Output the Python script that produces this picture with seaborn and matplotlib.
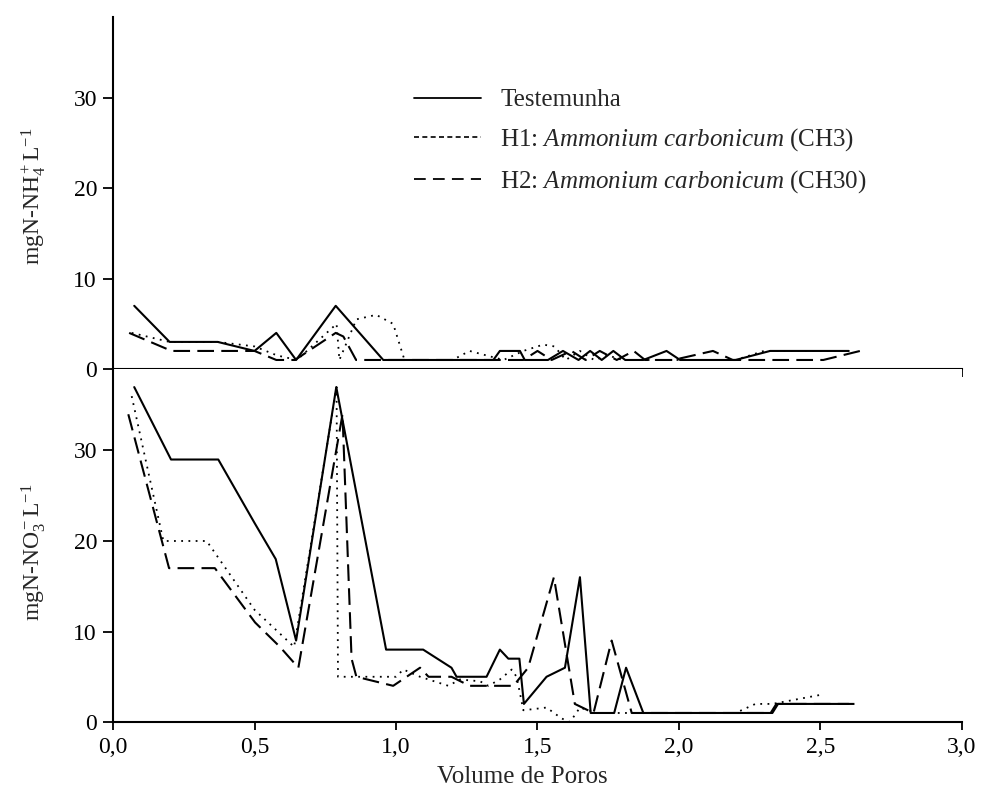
import matplotlib
matplotlib.use("Agg")
import matplotlib.pyplot as plt
import seaborn as sns
from matplotlib.lines import Line2D
from matplotlib.ticker import FuncFormatter

# ---- data (Volume de Poros, mg L-1) ----
# NH4 (top panel)
nh4_test_x = [0.075, 0.20, 0.37, 0.50, 0.577, 0.647, 0.787, 0.955, 1.344, 1.367, 1.438, 1.455, 1.537,
              1.59, 1.645, 1.686, 1.727, 1.768, 1.81, 1.874, 1.956, 2.004, 2.2, 2.322, 2.6]
nh4_test_y = [7, 3, 3, 2, 4, 1, 7, 1, 1, 2, 2, 1, 1, 2, 1, 2, 1, 2, 1, 1, 2, 1, 1, 2, 2]

nh4_h1_x = [0.066, 0.20, 0.37, 0.50, 0.58, 0.65, 0.79, 0.80, 0.86, 0.93, 0.99, 1.03, 1.20, 1.26,
            1.32, 1.38, 1.45, 1.52, 1.56, 1.60, 1.65, 1.70, 1.75, 1.80, 1.87, 2.00, 2.20, 2.30, 2.50, 2.60]
nh4_h1_y = [4, 3, 3, 2.5, 1.5, 1, 5, 1, 5.5, 6, 5, 1, 1, 2, 1.5, 1, 2, 2.7, 2.5, 1, 2, 1, 1.5, 1,
            1, 1, 1, 2, 2, 2]

nh4_h2_x = [0.057, 0.207, 0.50, 0.577, 0.643, 0.787, 0.814, 0.859, 1.45, 1.50, 1.55, 1.62, 1.67,
            1.72, 1.78, 1.84, 1.88, 1.98, 2.12, 2.19, 2.51, 2.64]
nh4_h2_y = [4, 2, 2, 1, 1, 4, 3.6, 1, 1, 2, 1, 2, 1, 2, 1, 2, 1, 1, 2, 1, 1, 2]

# NO3 (bottom panel)
no3_test_x = [0.075, 0.205, 0.372, 0.50, 0.575, 0.647, 0.789, 0.965, 1.096, 1.196, 1.214, 1.32,
              1.367, 1.397, 1.436, 1.452, 1.532, 1.597, 1.65, 1.688, 1.771, 1.813, 1.874, 2.324,
              2.344, 2.60]
no3_test_y = [37, 29, 29, 22, 18, 9, 37, 8, 8, 6, 5, 5, 8, 7, 7, 2, 5, 6, 16, 1, 1, 6, 1, 1, 2, 2]

no3_h1_x = [0.066, 0.178, 0.331, 0.50, 0.64, 0.79, 0.795, 1.00, 1.026, 1.085, 1.185, 1.226, 1.297,
            1.326, 1.367, 1.409, 1.426, 1.438, 1.45, 1.532, 1.585, 1.615, 1.65, 1.709, 1.80, 2.20,
            2.27, 2.33, 2.50]
no3_h1_y = [36, 20, 20, 12.4, 8.3, 37, 5, 5, 5.8, 5, 4, 4.7, 4.5, 4, 4.7, 5.8, 5, 3.2, 1.3, 1.6,
            0.4, 0, 1.6, 1, 1, 1, 2, 2, 3]

no3_h2_x = [0.054, 0.198, 0.36, 0.502, 0.59, 0.655, 0.811, 0.843, 0.86, 0.99, 1.085, 1.115, 1.196,
            1.26, 1.415, 1.467, 1.558, 1.632, 1.698, 1.762, 1.833, 2.33, 2.35, 2.64]
no3_h2_y = [34, 17, 17, 11, 8.3, 6, 34, 7, 5, 4, 6, 5, 5, 4, 4, 6, 16, 2, 1, 9, 1, 1, 2, 2]

labels = ["Testemunha",
          r"H1: $\mathit{Ammonium\ carbonicum}$ (CH3)",
          r"H2: $\mathit{Ammonium\ carbonicum}$ (CH30)"]
x_ticks = [0.0, 0.5, 1.0, 1.5, 2.0, 2.5, 3.0]
y_ticks = [0, 10, 20, 30]

sns.set_style("ticks")
plt.rcParams["font.family"] = ["Liberation Serif", "DejaVu Serif"]
plt.rcParams["mathtext.fontset"] = "custom"
plt.rcParams["mathtext.rm"] = "Liberation Serif"
plt.rcParams["mathtext.it"] = "Liberation Serif:italic"

solid = "-"
dotted = (0, (1, 3))
dashed = (0, (8, 3.5))

fig = plt.figure(figsize=(9.81, 7.98), dpi=100)
ax_top = fig.add_axes([0.1152, 0.5376, 0.8654, 0.4411])
ax_bot = fig.add_axes([0.1152, 0.0952, 0.8654, 0.4424])

panels = [
    (ax_top, [(nh4_test_x, nh4_test_y), (nh4_h1_x, nh4_h1_y), (nh4_h2_x, nh4_h2_y)]),
    (ax_bot, [(no3_test_x, no3_test_y), (no3_h1_x, no3_h1_y), (no3_h2_x, no3_h2_y)]),
]
for ax, series in panels:
    for (xs, ys), ls, lw in zip(series, [solid, dotted, dashed], [1.5, 1.3, 1.5]):
        sns.lineplot(x=xs, y=ys, ax=ax, color="black", linestyle=ls, linewidth=lw,
                     sort=False, estimator=None)
    ax.set_xlim(0, 3)
    ax.set_ylim(0, 39)
    ax.set_xticks(x_ticks)
    ax.set_yticks(y_ticks)
    for s in ["top", "right"]:
        ax.spines[s].set_visible(False)
    for s in ["left", "bottom"]:
        ax.spines[s].set_linewidth(1.5)
        ax.spines[s].set_color("black")
    ax.tick_params(axis="y", length=7.5, width=1.3, labelsize=17, pad=4, colors="black")
    ax.tick_params(axis="x", length=6, width=1.3, labelsize=17, pad=5, colors="black")
    ax.set_facecolor("white")

ax_top.tick_params(axis="x", labelbottom=False)
ax_bot.xaxis.set_major_formatter(FuncFormatter(lambda v, p: f"{v:.1f}".replace(".", ",")))

ax_top.set_ylabel(r"mgN-NH$_4^+$L$^{-1}$", fontsize=17)
ax_bot.set_ylabel(r"mgN-NO$_3^-$L$^{-1}$", fontsize=17)
ax_top.yaxis.set_label_coords(-0.077, 0.49)
ax_bot.yaxis.set_label_coords(-0.077, 0.48)
ax_bot.set_xlabel("Volume de Poros", fontsize=18)
ax_bot.xaxis.set_label_coords(0.482, -0.125)

handles = [
    Line2D([], [], color="black", linestyle=solid, linewidth=1.3),
    Line2D([], [], color="black", linestyle=(0, (3, 2)), linewidth=1.2),
    Line2D([], [], color="black", linestyle=(0, (6.5, 4)), linewidth=1.3),
]
ax_top.legend(handles, labels, loc="upper left", bbox_to_anchor=(0.328, 0.86),
              frameon=False, fontsize=18, handlelength=2.7, handletextpad=0.75,
              labelspacing=0.6)

fig.savefig("out.png", dpi=100, facecolor="white")
